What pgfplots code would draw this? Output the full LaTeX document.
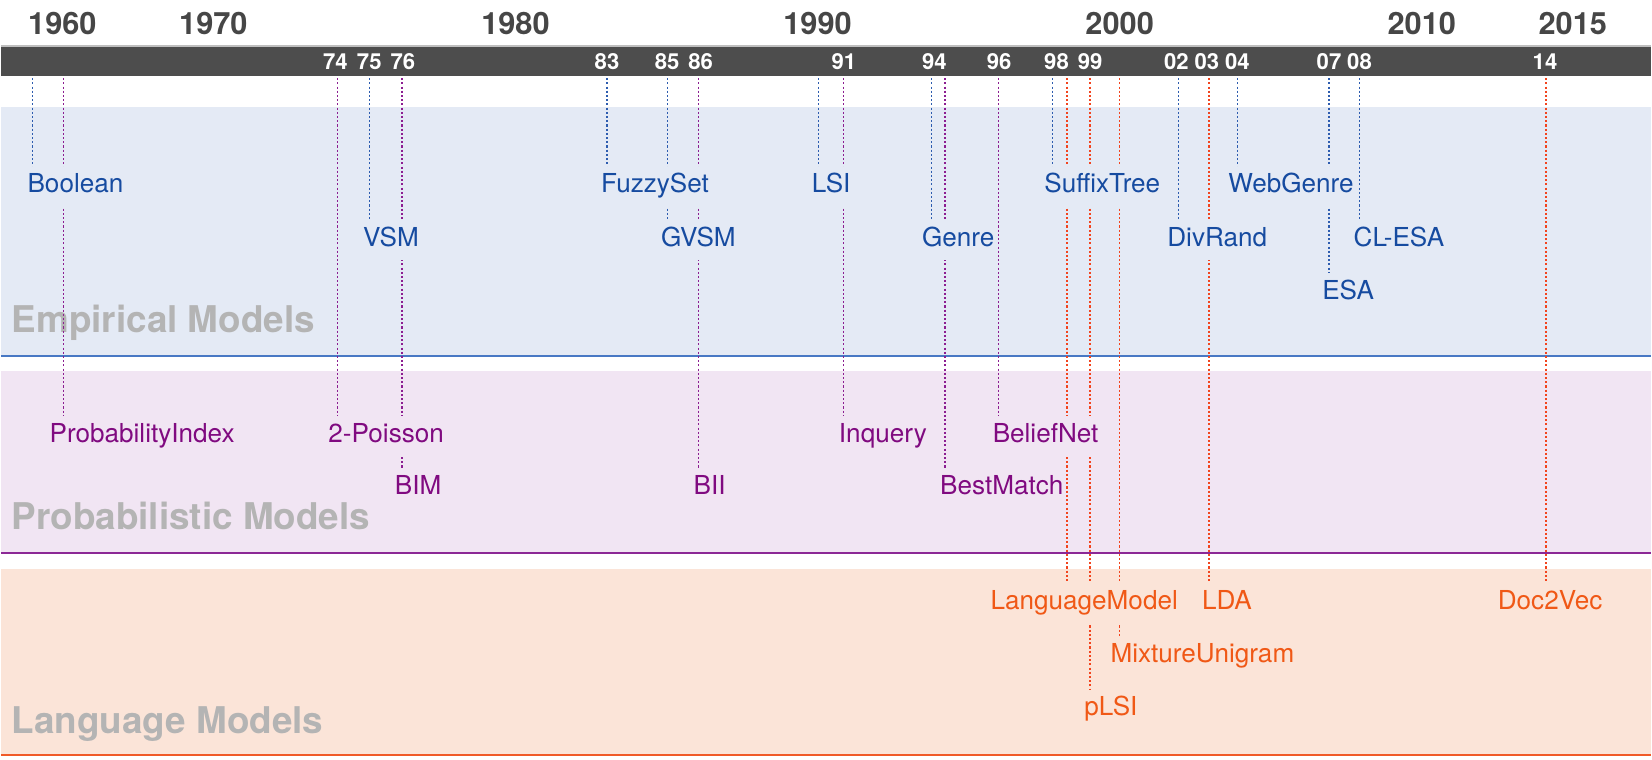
\documentclass[border=0pt]{standalone}
\usepackage{fontspec}
\setmainfont{TeX Gyre Heros}
\usepackage{pgfplots}
\pgfplotsset{compat=1.18}

\definecolor{bargray}{RGB}{77,77,77}
\definecolor{yeargray}{RGB}{70,70,70}
\definecolor{grouptxt}{RGB}{180,180,180}
\definecolor{bgE}{RGB}{228,234,245}
\definecolor{bgP}{RGB}{241,229,243}
\definecolor{bgL}{RGB}{251,228,216}
\definecolor{txtE}{RGB}{22,75,160}
\definecolor{txtP}{RGB}{128,10,128}
\definecolor{txtL}{RGB}{240,88,22}
\definecolor{lnE}{RGB}{45,92,175}
\definecolor{lnP}{RGB}{140,30,145}
\definecolor{lnL}{RGB}{242,68,30}
\definecolor{bdE}{RGB}{72,120,196}
\definecolor{bdP}{RGB}{140,40,150}
\definecolor{bdL}{RGB}{240,90,40}

\tikzset{
  evline/.style={line width=0.6pt, dash pattern=on 1pt off 1pt},
  evlab/.style={anchor=base west, inner xsep=0.5pt, inner ysep=0pt,
    text height=12.5pt, text depth=6.5pt, font=\fontsize{12.4}{14}\selectfont},
  labE/.style={evlab, fill=bgE, text=txtE},
  labP/.style={evlab, fill=bgP, text=txtP},
  labL/.style={evlab, fill=bgL, text=txtL},
  yrnum/.style={anchor=base, text=white, inner sep=0pt,
    font=\fontsize{10.5}{12}\selectfont\bfseries},
  grp/.style={anchor=base west, inner sep=0pt, text=grouptxt,
    font=\fontsize{17.5}{20}\selectfont\bfseries},
}

\begin{document}
\begin{tikzpicture}
% x: years (1970 on at full scale, the 1960s at half scale); y: minus pixel row
\begin{axis}[
  scale only axis, width=784pt, height=360.5pt,
  xmin=1962.962, xmax=2017.596, ymin=-721, ymax=0,
  clip=false, axis line style={draw=none}, major tick length=0pt,
  ytick=\empty,
  xtick={1965,1970,1980,1990,2000,2010,2015},
  xticklabels={1960,1970,1980,1990,2000,2010,2015},
  xticklabel pos=right,
  xticklabel style={anchor=base, yshift=-16.5pt, inner sep=0pt, text=yeargray,
    font=\fontsize{14.6}{15}\selectfont\bfseries},
  no markers,
]
% bands
\path (axis cs:1962.962,0) -- (axis cs:2017.596,-721);
\fill[bgE] (axis cs:1962.962,-101) rectangle (axis cs:2017.596,-338);
\fill[bgP] (axis cs:1962.962,-352) rectangle (axis cs:2017.596,-525);
\fill[bgL] (axis cs:1962.962,-540) rectangle (axis cs:2017.596,-717);
\draw[bdE, line width=0.75pt] (axis cs:1962.962,-338) -- (axis cs:2017.596,-338);
\draw[bdP, line width=0.75pt] (axis cs:1962.962,-525) -- (axis cs:2017.596,-525);
\draw[bdL, line width=0.75pt] (axis cs:1962.962,-717) -- (axis cs:2017.596,-717);
\node[grp] at (axis cs:1963.31,-316) {Empirical Models};
\node[grp] at (axis cs:1963.31,-503) {Probabilistic Models};
\node[grp] at (axis cs:1963.31,-697) {Language Models};

% timeline bar
\fill[bargray] (axis cs:1962.962,-44) rectangle (axis cs:2017.596,-72);
\draw[black!25, line width=0.6pt] (axis cs:1962.962,-43.6) -- (axis cs:2017.596,-43.6);
\node[yrnum] at (axis cs:1974.04,-65.5) {74};
\node[yrnum] at (axis cs:1975.16,-65.5) {75};
\node[yrnum] at (axis cs:1976.27,-65.5) {76};
\node[yrnum] at (axis cs:1983.03,-65.5) {83};
\node[yrnum] at (axis cs:1985.02,-65.5) {85};
\node[yrnum] at (axis cs:1986.13,-65.5) {86};
\node[yrnum] at (axis cs:1990.87,-65.5) {91};
\node[yrnum] at (axis cs:1993.87,-65.5) {94};
\node[yrnum] at (axis cs:1996.01,-65.5) {96};
\node[yrnum] at (axis cs:1997.91,-65.5) {98};
\node[yrnum] at (axis cs:1999.02,-65.5) {99};
\node[yrnum] at (axis cs:2001.88,-65.5) {02};
\node[yrnum] at (axis cs:2002.89,-65.5) {03};
\node[yrnum] at (axis cs:2003.90,-65.5) {04};
\node[yrnum] at (axis cs:2006.93,-65.5) {07};
\node[yrnum] at (axis cs:2007.94,-65.5) {08};
\node[yrnum] at (axis cs:2014.08,-65.5) {14};

% event lines
\addplot[evline, lnE] coordinates {(1964.01,-74) (1964.01,-183)};   % Boolean
\addplot[evline, lnP] coordinates {(1965.05,-74) (1965.05,-420)};   % ProbabilityIndex
\addplot[evline, lnP] coordinates {(1974.11,-74) (1974.11,-420)};   % 2-Poisson
\addplot[evline, lnE] coordinates {(1975.16,-74) (1975.16,-234)};   % VSM
\addplot[evline, lnP] coordinates {(1976.24,-74) (1976.24,-470)};   % BIM
\addplot[evline, lnE] coordinates {(1983.03,-74) (1983.03,-183)};   % FuzzySet
\addplot[evline, lnE] coordinates {(1985.02,-74) (1985.02,-234)};   % GVSM
\addplot[evline, lnP] coordinates {(1986.06,-74) (1986.06,-470)};   % BII
\addplot[evline, lnE] coordinates {(1990.03,-74) (1990.03,-183)};   % LSI
\addplot[evline, lnP] coordinates {(1990.87,-74) (1990.87,-420)};   % Inquery
\addplot[evline, lnE] coordinates {(1993.76,-74) (1993.76,-234)};   % Genre
\addplot[evline, lnP] coordinates {(1994.22,-74) (1994.22,-470)};   % BestMatch
\addplot[evline, lnP] coordinates {(1995.99,-74) (1995.99,-420)};   % BeliefNet
\addplot[evline, lnE] coordinates {(1997.77,-74) (1997.77,-183)};   % SuffixTree
\addplot[evline, lnL] coordinates {(1998.26,-74) (1998.26,-579)};   % LanguageModel
\addplot[evline, lnL] coordinates {(1999.02,-74) (1999.02,-680)};   % pLSI
\addplot[evline, lnL] coordinates {(2000.00,-74) (2000.00,-629)};   % MixtureUnigram
\addplot[evline, lnE] coordinates {(2001.95,-74) (2001.95,-234)};   % DivRand
\addplot[evline, lnL] coordinates {(2002.96,-74) (2002.96,-579)};   % LDA
\addplot[evline, lnE] coordinates {(2003.90,-74) (2003.90,-183)};   % WebGenre
\addplot[evline, lnE] coordinates {(2006.93,-74) (2006.93,-284)};   % ESA
\addplot[evline, lnE] coordinates {(2007.94,-74) (2007.94,-234)};   % CL-ESA
\addplot[evline, lnL] coordinates {(2014.11,-74) (2014.11,-579)};   % Doc2Vec

% event labels (filled, so they break the lines that pass behind them)
\node[labE] at (axis cs:1963.80,-183) {Boolean};
\node[labP] at (axis cs:1964.53,-420) {ProbabilityIndex};
\node[labP] at (axis cs:1973.76,-420) {2-Poisson};
\node[labE] at (axis cs:1974.91,-234) {VSM};
\node[labP] at (axis cs:1975.96,-470) {BIM};
\node[labE] at (axis cs:1982.79,-183) {FuzzySet};
\node[labE] at (axis cs:1984.77,-234) {GVSM};
\node[labP] at (axis cs:1985.85,-470) {BII};
\node[labE] at (axis cs:1989.76,-183) {LSI};
\node[labP] at (axis cs:1990.66,-420) {Inquery};
\node[labE] at (axis cs:1993.41,-234) {Genre};
\node[labP] at (axis cs:1994.01,-470) {BestMatch};
\node[labP] at (axis cs:1995.75,-420) {BeliefNet};
\node[labE] at (axis cs:1997.46,-183) {SuffixTree};
\node[labL] at (axis cs:1995.68,-579) {LanguageModel};
\node[labL] at (axis cs:1998.78,-680) {pLSI};
\node[labL] at (axis cs:1999.65,-629) {MixtureUnigram};
\node[labE] at (axis cs:2001.53,-234) {DivRand};
\node[labL] at (axis cs:2002.68,-579) {LDA};
\node[labE] at (axis cs:2003.55,-183) {WebGenre};
\node[labE] at (axis cs:2006.66,-284) {ESA};
\node[labE] at (axis cs:2007.70,-234) {CL-ESA};
\node[labL] at (axis cs:2012.47,-579) {Doc2Vec};
\end{axis}
\end{tikzpicture}
\end{document}
